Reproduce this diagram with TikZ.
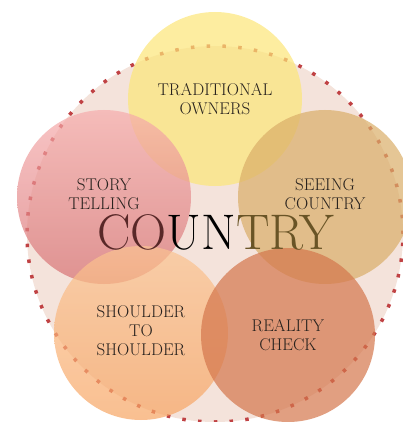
\documentclass[tikz,border=0pt]{standalone}
\usepackage{xcolor}
\usetikzlibrary{positioning}

\definecolor{countrybg}{RGB}{244,227,219}
\definecolor{dotred}{RGB}{192,66,68}
\definecolor{ownersfill}{RGB}{252,230,120}
\definecolor{storytop}{RGB}{246,172,172}
\definecolor{storybot}{RGB}{214,112,114}
\definecolor{seeingfill}{RGB}{218,174,104}
\definecolor{shouldertop}{RGB}{251,196,146}
\definecolor{shoulderbot}{RGB}{247,164,98}
\definecolor{realityfill}{RGB}{212,118,76}
\definecolor{labeltext}{RGB}{40,34,30}
\definecolor{wordleft}{RGB}{88,40,40}
\definecolor{wordright}{RGB}{105,84,38}

\tikzset{
    bubble/.style={circle, inner sep=0pt, minimum size=174pt, fill opacity=0.7},
    bubbletext/.style={align=center, text=labeltext, font=\fontsize{17}{19}\selectfont}
}

\begin{document}
\begin{tikzpicture}[x=1pt, y=-1pt]
    \useasboundingbox (0,0) rectangle (403,422);

    % Country background
    \node[circle, inner sep=0pt, minimum size=376pt, fill=countrybg] (country) at (215,234) {};
    \draw[dotred, line width=3.5pt, dash pattern=on 3.5pt off 12.3pt] (country.center) circle[radius=188pt];

    % Bubbles
    \node[bubble, fill=ownersfill] (owners) at (215,99) {};
    \node[bubble, top color=storytop, bottom color=storybot] (story) at (104,197) {};
    \node[bubble, fill=seeingfill] (seeing) at (325,197) {};
    \node[bubble, top color=shouldertop, bottom color=shoulderbot] (shoulder) at (141,333) {};
    \node[bubble, fill=realityfill] (reality) at (288,335) {};

    % Big word
    \node[font=\fontsize{50}{50}\selectfont] (word) at (216,232)
        {\textcolor{wordleft}{CO}\textcolor{black}{UN}\textcolor{wordright}{TRY}};

    % Labels
    \node[bubbletext] (ownerslbl) at (215,99) {TRADITIONAL\\OWNERS};
    \node[bubbletext] (storylbl) at (104,194) {STORY\\TELLING};
    \node[bubbletext] (seeinglbl) at (325,194) {SEEING\\COUNTRY};
    \node[bubbletext] (shoulderlbl) at (141,331) {SHOULDER\\TO\\SHOULDER};
    \node[bubbletext] (realitylbl) at (288,335) {REALITY\\CHECK};
\end{tikzpicture}
\end{document}
